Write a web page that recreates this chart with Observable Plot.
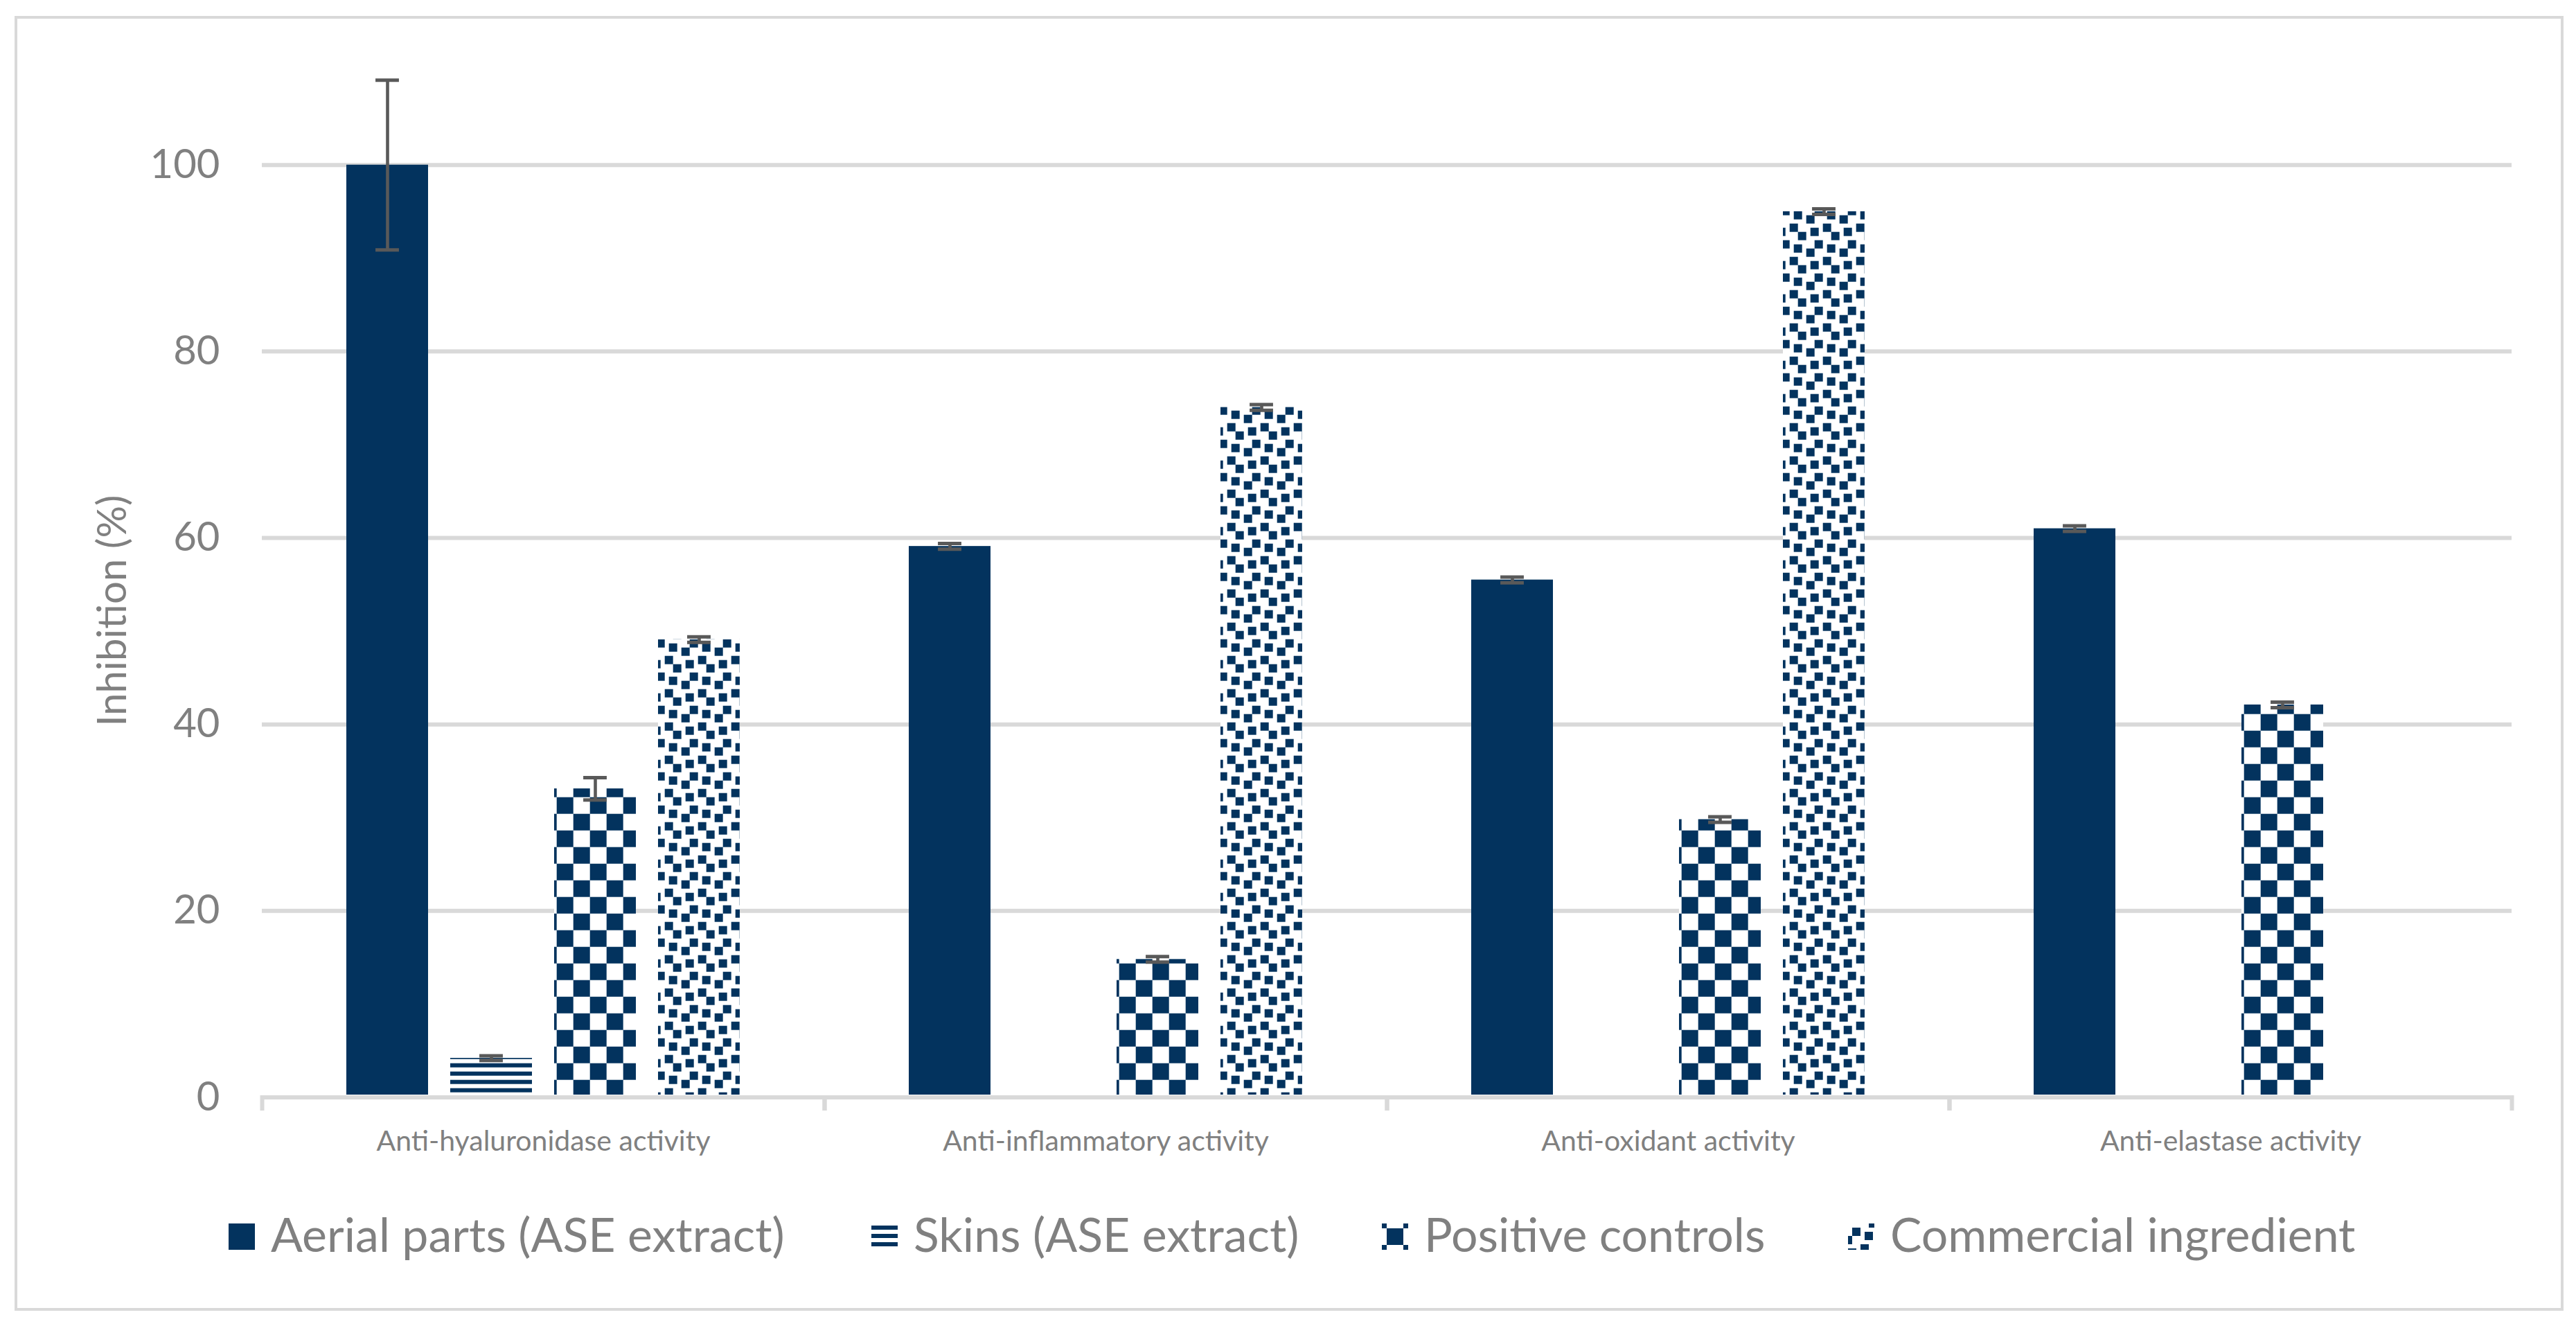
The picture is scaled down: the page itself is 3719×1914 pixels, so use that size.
<!DOCTYPE html>
<html><head><meta charset="utf-8">
<script src="https://cdn.jsdelivr.net/npm/d3@7"></script>
<script src="https://cdn.jsdelivr.net/npm/@observablehq/plot@0.6"></script>
<style>
html,body{margin:0;padding:0;background:#fff;}
#root{position:relative;width:3719px;height:1914px;overflow:hidden;font-family:Lato,"Open Sans",sans-serif;background:#fff;}
#chart{position:absolute;left:0;top:0;}
#border{position:absolute;left:21px;top:23px;width:3672px;height:1861px;border:4px solid #d9d9d9;pointer-events:none;}
.sw{position:absolute;top:1766px;width:38px;height:38px;}
.lt{position:absolute;top:1740px;font-size:68px;line-height:82px;color:#808080;white-space:nowrap;}
</style></head>
<body><div id="root">
<svg width="0" height="0" style="position:absolute">
  <defs>
    <pattern id="pStripes" patternUnits="userSpaceOnUse" x="0" y="10.7" width="12" height="12">
      <rect width="12" height="12" fill="#fff"/><rect width="12" height="6" fill="#03335E"/>
    </pattern>
    <pattern id="pChecker" patternUnits="userSpaceOnUse" x="34.7" y="46.7" width="48" height="48">
      <rect width="48" height="48" fill="#fff"/>
      <rect width="24" height="24" fill="#03335E"/><rect x="24" y="24" width="24" height="24" fill="#03335E"/>
    </pattern>
    <pattern id="pConfetti" patternUnits="userSpaceOnUse" x="28.7" y="4.7" width="48" height="48">
      <rect width="48" height="48" fill="#fff"/>
      <g fill="#03335E">
        <rect x="6" y="6" width="12" height="12"/><rect x="24" y="12" width="12" height="12"/>
        <rect x="42" y="18" width="12" height="12"/><rect x="-6" y="18" width="12" height="12"/>
        <rect x="18" y="30" width="12" height="12"/><rect x="0" y="36" width="12" height="12"/>
        <rect x="30" y="42" width="12" height="12"/><rect x="30" y="-6" width="12" height="12"/>
      </g>
    </pattern>
    <pattern id="lStripes" patternUnits="userSpaceOnUse" x="0" y="3" width="12" height="12">
      <rect width="12" height="12" fill="#fff"/><rect width="12" height="6" fill="#03335E"/>
    </pattern>
    <pattern id="lChecker" patternUnits="userSpaceOnUse" x="7" y="7" width="48" height="48">
      <rect width="48" height="48" fill="#fff"/>
      <rect width="24" height="24" fill="#03335E"/><rect x="24" y="24" width="24" height="24" fill="#03335E"/>
    </pattern>
    <pattern id="lConfetti" patternUnits="userSpaceOnUse" x="0" y="0" width="48" height="48">
      <rect width="48" height="48" fill="#fff"/>
      <g fill="#03335E">
        <rect x="6" y="6" width="12" height="12"/><rect x="24" y="12" width="12" height="12"/>
        <rect x="42" y="18" width="12" height="12"/><rect x="-6" y="18" width="12" height="12"/>
        <rect x="18" y="30" width="12" height="12"/><rect x="0" y="36" width="12" height="12"/>
        <rect x="30" y="42" width="12" height="12"/><rect x="30" y="-6" width="12" height="12"/>
      </g>
    </pattern>
  </defs>
</svg>
<div id="chart"></div>
<div id="legend"></div>
<div id="border"></div>
</div>
<script>
// ---- data ----
const categories = ["Anti-hyaluronidase activity", "Anti-inflammatory activity", "Anti-oxidant activity", "Anti-elastase activity"];
const series = ["Aerial parts (ASE extract)", "Skins (ASE extract)", "Positive controls", "Commercial ingredient"];
const aerialValues     = [100.0, 59.1, 55.5, 61.0];
const aerialErrors     = [9.1, 0.3, 0.3, 0.3];
const skinsValues      = [4.2, null, null, null];
const skinsErrors      = [0.25, null, null, null];
const positiveValues   = [33.1, 14.8, 29.8, 42.1];
const positiveErrors   = [1.2, 0.3, 0.3, 0.3];
const commercialValues = [49.1, 74.0, 95.0, null];
const commercialErrors = [0.3, 0.3, 0.3, null];
const yTicks = [0, 20, 40, 60, 80, 100];
const gridTicks = [20, 40, 60, 80, 100];

// ---- styles (not data) ----
const navy = "#03335E";
const fills = [navy, "url(#pStripes)", "url(#pChecker)", "url(#pConfetti)"];
const legendFills = [navy, "url(#lStripes)", "url(#lChecker)", "url(#lConfetti)"];
const legendLeft = [330, 1258, 1995, 2668];

const valueSets = [aerialValues, skinsValues, positiveValues, commercialValues];
const errorSets = [aerialErrors, skinsErrors, positiveErrors, commercialErrors];
const rows = [];
series.forEach((s, si) => categories.forEach((c, ci) => {
  const v = valueSets[si][ci];
  if (v != null) rows.push({category: c, series: s, value: v, err: errorSets[si][ci]});
}));

const W = 3719, H = 1700;
const mL = 377, mR = 92, mT = 178.5, mB = 116.5;
const xPadInner = 0.213, xPadOuter = 0.813;
const facetW = (W - mL - mR) / categories.length;
const step = facetW / (series.length - xPadInner + 2 * xPadOuter);
const bandW = step * (1 - xPadInner);
const capW = 34;
const capInset = (bandW - capW) / 2;
const frameH = H - mT - mB;

const plot = Plot.plot({
  width: W, height: H,
  marginLeft: mL, marginRight: mR, marginTop: mT, marginBottom: mB,
  style: {fontFamily: "Lato, 'Open Sans', sans-serif", color: "#808080", background: "transparent", overflow: "visible"},
  fx: {domain: categories, padding: 0},
  x: {domain: series, paddingInner: xPadInner, paddingOuter: xPadOuter, axis: null},
  y: {domain: [0, 104.4]},
  color: {type: "ordinal", domain: series, range: fills},
  marks: [
    Plot.ruleY(gridTicks, {stroke: "#d9d9d9", strokeWidth: 6}),
    Plot.ruleY([0], {stroke: "#d9d9d9", strokeWidth: 6}),
    Plot.frame({anchor: "left", stroke: "#d9d9d9", strokeWidth: 6, insetTop: frameH, insetBottom: -16}),
    Plot.frame({anchor: "right", stroke: "#d9d9d9", strokeWidth: 6, insetTop: frameH, insetBottom: -16}),
    Plot.barY(rows, {fx: "category", x: "series", y: "value", fill: "series", insetBottom: 3.5}),
    Plot.ruleX(rows, {fx: "category", x: "series", y1: d => d.value - d.err, y2: d => d.value + d.err, stroke: "#595959", strokeWidth: 4.6}),
    Plot.tickY(rows, {fx: "category", x: "series", y: d => d.value + d.err, stroke: "#595959", strokeWidth: 5, insetLeft: capInset, insetRight: capInset}),
    Plot.tickY(rows, {fx: "category", x: "series", y: d => d.value - d.err, stroke: "#595959", strokeWidth: 5, insetLeft: capInset, insetRight: capInset}),
    Plot.axisY({ticks: yTicks, tickSize: 0, tickPadding: 61, fontSize: 58,
      label: "Inhibition (%)", labelAnchor: "center", labelOffset: 238, labelArrow: "none"}),
    Plot.axisFx({anchor: "bottom", tickSize: 0, tickPadding: 48, fontSize: 41, label: null})
  ]
});
document.getElementById("chart").appendChild(plot);

// ---- legend ----
const legend = document.getElementById("legend");
series.forEach((s, i) => {
  const sw = document.createElementNS("http://www.w3.org/2000/svg", "svg");
  sw.setAttribute("class", "sw");
  sw.setAttribute("width", 38); sw.setAttribute("height", 38);
  sw.style.left = legendLeft[i] + "px";
  const r = document.createElementNS("http://www.w3.org/2000/svg", "rect");
  r.setAttribute("width", 38); r.setAttribute("height", 38); r.setAttribute("fill", legendFills[i]);
  sw.appendChild(r);
  legend.appendChild(sw);
  const t = document.createElement("div");
  t.className = "lt";
  t.style.left = (legendLeft[i] + 61) + "px";
  t.textContent = s;
  legend.appendChild(t);
});
</script>
</body></html>
